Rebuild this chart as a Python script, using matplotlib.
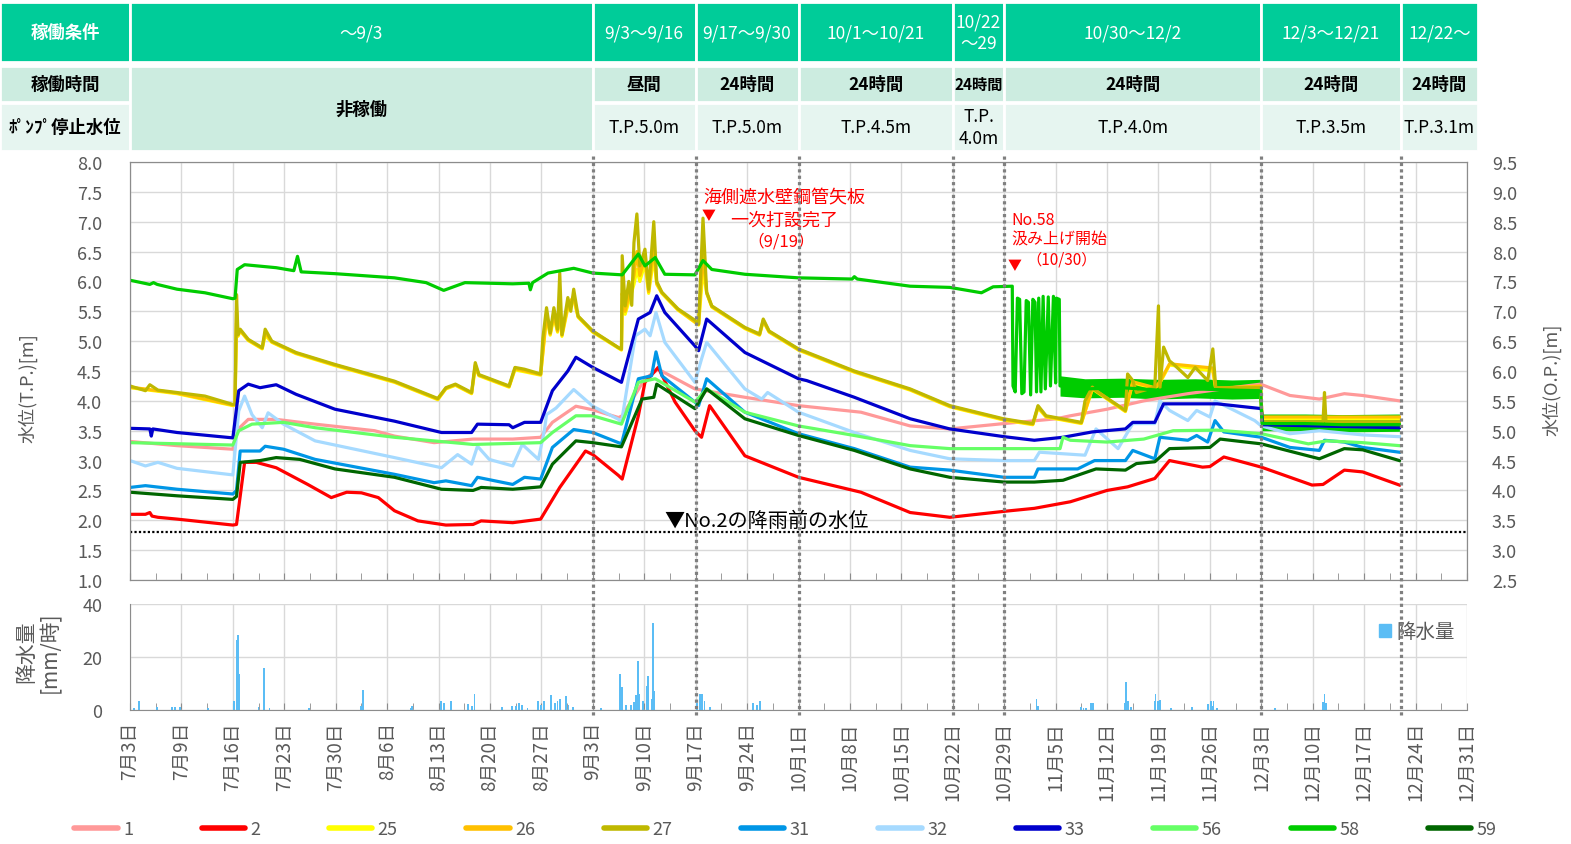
import matplotlib
matplotlib.use("Agg")
import matplotlib.pyplot as plt
from matplotlib.transforms import blended_transform_factory
from matplotlib.patches import Rectangle, Patch
from matplotlib.lines import Line2D
from matplotlib.ticker import MultipleLocator

# x = days since 7/2 (tick labels as printed on the original chart)
tick_labels = ['7月3日', '7月9日', '7月16日', '7月23日', '7月30日', '8月6日', '8月13日',
               '8月20日', '8月27日', '9月3日', '9月10日', '9月17日', '9月24日', '10月1日',
               '10月8日', '10月15日', '10月22日', '10月29日', '11月5日', '11月12日',
               '11月19日', '11月26日', '12月3日', '12月10日', '12月17日', '12月24日', '12月31日']

# pump operating periods (header table)
period_edges = [0, 63, 77, 91, 112, 119, 154, 173, 183.5]
cond_labels = ['～9/3', '9/3～9/16', '9/17～9/30', '10/1～10/21', '10/22\n～29',
               '10/30～12/2', '12/3～12/21', '12/22～']
hour_labels = ['非稼働', '昼間', '24時間', '24時間', '24時間', '24時間', '24時間', '24時間']
stop_labels = ['', 'T.P.5.0m', 'T.P.5.0m', 'T.P.4.5m', 'T.P.\n4.0m', 'T.P.4.0m',
               'T.P.3.5m', 'T.P.3.1m']

# water level (T.P. m), (day, value)
w1 = [(0, 3.32), (6.4, 3.25), (14.0, 3.19), (14.5, 3.5), (16.1, 3.69), (19.9, 3.69),
      (25.2, 3.61), (33.3, 3.5), (36, 3.41), (41.4, 3.3), (46.7, 3.36), (52.1, 3.36),
      (55.9, 3.39), (57.5, 3.64), (60.7, 3.91), (63, 3.85), (66.5, 3.72), (67, 3.75),
      (70.1, 4.37), (71.9, 4.53), (76.9, 4.2), (83.7, 4.06), (91, 3.92), (99.5, 3.81),
      (106.2, 3.58), (111.6, 3.53), (119, 3.62), (126.1, 3.7), (128, 3.75), (133, 3.86),
      (138, 4.0), (144, 4.12), (150, 4.22), (153.9, 4.28), (157.9, 4.09), (161.9, 4.03),
      (165.3, 4.12), (167.8, 4.09), (172.8, 4.0)]
w2 = [(0, 2.1), (2.1, 2.1), (2.7, 2.13), (3.0, 2.07), (3.8, 2.05), (6.4, 2.02), (14.0, 1.92),
      (14.5, 1.93), (15.6, 2.97), (17.2, 2.97), (19.9, 2.88), (24.2, 2.6), (27.4, 2.38),
      (29.5, 2.47), (31.5, 2.46), (33.8, 2.38), (36, 2.16), (39.2, 1.99), (43, 1.92),
      (46.7, 1.93), (47.8, 1.99), (52.1, 1.96), (55.9, 2.02), (58.5, 2.55), (62, 3.16),
      (63, 3.1), (66.5, 2.75), (67, 2.69), (69.2, 3.75), (70.1, 4.31), (71.9, 4.56),
      (74.2, 3.98), (76.9, 3.5), (77.8, 3.39), (78.9, 3.92), (83.7, 3.08), (91, 2.72),
      (99.5, 2.47), (106.2, 2.13), (111.6, 2.05), (119, 2.15), (123.1, 2.2), (128, 2.31),
      (133, 2.5), (135.8, 2.56), (139.5, 2.7), (141.5, 3.0), (146, 2.89), (147, 2.9),
      (148.9, 3.06), (154, 2.89), (160.9, 2.59), (162.4, 2.6), (165.3, 2.84), (167.8, 2.81),
      (172.8, 2.59)]
w25 = [(0, 4.22), (6.4, 4.12), (14.0, 3.92), (14.3, 3.93), (14.5, 5.3), (14.7, 5.08),
       (15.0, 5.17), (16.1, 5.01), (18.0, 4.87), (18.4, 5.1), (19.3, 4.98), (22.6, 4.79),
       (27.9, 4.59), (36, 4.31), (41.9, 4.02), (43, 4.2), (44.3, 4.26), (46.5, 4.12),
       (47, 4.55), (47.5, 4.42), (51.6, 4.23), (52.4, 4.52), (55.9, 4.43), (56.7, 5.4),
       (57.2, 5.1), (57.7, 5.4), (58.2, 5.15), (58.5, 5.5), (58.8, 5.08), (59.6, 5.55),
       (60.4, 5.7), (61, 5.4), (63, 5.15), (66.9, 4.85), (67.0, 5.6), (67.4, 5.45),
       (68.6, 5.95), (69.0, 6.2), (69.4, 6.0), (70.1, 6.3), (70.6, 5.8), (71.3, 6.4),
       (71.7, 5.95), (72.4, 5.8), (74.6, 5.52), (77.4, 5.27), (78.0, 6.2), (78.5, 5.8),
       (79.2, 5.57), (83.7, 5.21), (85.7, 5.1), (86.2, 5.33), (87, 5.15), (91, 4.85),
       (98.6, 4.48), (106.2, 4.18), (111.6, 3.9), (118.9, 3.68), (122.9, 3.6), (123.6, 3.88),
       (124.7, 3.73), (129.5, 3.62), (131, 4.2), (135.5, 3.82), (136.5, 4.3), (139.5, 4.21),
       (140.2, 4.3), (141.5, 4.6), (147.4, 4.5), (147.8, 4.2), (153.9, 4.22), (154.1, 3.7),
       (172.8, 3.7)]
w26 = [(0, 4.23), (6.4, 4.13), (14.0, 3.93), (14.3, 3.94), (14.5, 5.5), (14.7, 5.1),
       (15.0, 5.18), (16.1, 5.02), (18.0, 4.88), (18.4, 5.15), (19.3, 4.99), (22.6, 4.8),
       (27.9, 4.6), (36, 4.32), (41.9, 4.03), (43, 4.21), (44.3, 4.27), (46.5, 4.13),
       (47, 4.6), (47.5, 4.43), (51.6, 4.24), (52.4, 4.54), (55.9, 4.44), (56.7, 5.45),
       (57.2, 5.12), (57.7, 5.45), (58.2, 5.17), (58.5, 5.6), (58.8, 5.1), (59.6, 5.6),
       (60.4, 5.75), (61, 5.41), (63, 5.16), (66.9, 4.86), (67.0, 5.8), (67.4, 5.5),
       (68.6, 6.1), (69.0, 6.5), (69.4, 6.1), (70.1, 6.4), (70.6, 5.83), (71.3, 6.6),
       (71.7, 5.97), (72.4, 5.81), (74.6, 5.53), (77.4, 5.28), (78.0, 6.5), (78.5, 5.81),
       (79.2, 5.58), (83.7, 5.22), (85.7, 5.11), (86.2, 5.35), (87, 5.16), (91, 4.86),
       (98.6, 4.49), (106.2, 4.19), (111.6, 3.91), (118.9, 3.69), (122.9, 3.61), (123.6, 3.9),
       (124.7, 3.74), (129.5, 3.63), (131, 4.21), (135.5, 3.83), (136.5, 4.32), (139.5, 4.22),
       (140.2, 4.32), (141.5, 4.62), (147.4, 4.55), (147.8, 4.21), (153.9, 4.25),
       (154.1, 3.73), (172.8, 3.73)]
w27 = [(0, 4.25), (2.1, 4.17), (2.7, 4.27), (3.8, 4.18), (6.4, 4.14), (10.2, 4.08),
       (14.0, 3.94), (14.3, 3.95), (14.5, 5.78), (14.7, 5.11), (15.0, 5.2), (16.1, 5.03),
       (18.0, 4.89), (18.4, 5.2), (19.3, 5.0), (22.6, 4.81), (27.9, 4.61), (36, 4.33),
       (41.9, 4.04), (43, 4.22), (44.3, 4.28), (46.5, 4.14), (47, 4.64), (47.5, 4.44),
       (51.6, 4.25), (52.4, 4.56), (53.7, 4.53), (55.9, 4.45), (56.2, 5.05), (56.7, 5.56),
       (57.2, 5.14), (57.7, 5.56), (58.2, 5.2), (58.5, 6.14), (58.8, 5.11), (59.6, 5.73),
       (60.0, 5.5), (60.4, 5.87), (61, 5.42), (63, 5.17), (66.5, 4.89), (66.9, 4.87),
       (67.0, 6.43), (67.4, 5.59), (67.9, 6.0), (68.3, 5.6), (68.6, 6.65), (69.0, 7.13),
       (69.4, 6.26), (70.1, 6.54), (70.6, 5.87), (71.0, 6.5), (71.3, 7.0), (71.7, 6.0),
       (72.4, 5.82), (74.6, 5.54), (76.9, 5.35), (77.4, 5.29), (78.0, 7.06), (78.5, 5.82),
       (79.2, 5.59), (83.7, 5.23), (85.7, 5.12), (86.2, 5.37), (87, 5.17), (91, 4.87),
       (98.6, 4.5), (106.2, 4.2), (111.6, 3.92), (118.9, 3.7), (122.9, 3.62), (123.6, 3.92),
       (124.7, 3.75), (129.5, 3.64), (130, 4.0), (131, 4.23), (131.5, 4.17), (135.5, 3.84),
       (135.8, 4.45), (136.5, 4.34), (137, 4.14), (139.5, 4.23), (140, 5.59), (140.2, 4.22),
       (140.7, 4.9), (141.5, 4.67), (142, 4.62), (144, 4.39), (145, 4.56), (146.7, 4.34),
       (147.4, 4.87), (147.8, 4.22), (153.9, 4.22), (154.1, 3.65), (162.4, 3.65),
       (162.6, 4.14), (162.8, 3.65), (172.8, 3.65)]
w31 = [(0, 2.55), (2.1, 2.58), (6.4, 2.52), (14.0, 2.44), (14.5, 2.5), (15.0, 3.16),
       (17.7, 3.16), (18.4, 3.24), (20.9, 3.19), (25.2, 3.02), (36, 2.77), (41.4, 2.63),
       (43, 2.66), (46.5, 2.58), (47.3, 2.72), (52.1, 2.6), (53.7, 2.72), (55.9, 2.69),
       (57.5, 3.22), (60.4, 3.52), (63, 3.47), (66.9, 3.28), (69.2, 4.37), (71, 4.42),
       (71.6, 4.82), (72.4, 4.42), (76.9, 3.98), (77.4, 3.92), (78.5, 4.37), (83.7, 3.81),
       (91, 3.45), (98.6, 3.2), (106.2, 2.89), (111.6, 2.84), (119, 2.72), (123.1, 2.72),
       (123.6, 2.86), (129, 2.86), (131.3, 3.0), (135.5, 3.0), (136.5, 3.17), (139.5, 3.03),
       (140.2, 3.39), (144, 3.34), (145.2, 3.42), (146.7, 3.31), (147.7, 3.67), (148.9, 3.48),
       (154, 3.39), (157.9, 3.22), (161.9, 3.17), (162.6, 3.34), (165.3, 3.31), (167.8, 3.22),
       (172.8, 3.14)]
w32 = [(0, 3.0), (2.1, 2.91), (3.8, 2.97), (6.4, 2.87), (14.0, 2.76), (14.8, 3.83),
       (15.6, 4.08), (16.6, 3.77), (18.0, 3.55), (18.8, 3.8), (20.9, 3.61), (25.2, 3.33),
       (36, 3.05), (42.4, 2.88), (44.6, 3.1), (46.5, 2.94), (47.3, 3.24), (48.9, 3.02),
       (52.1, 2.91), (53.4, 3.27), (55.6, 3.02), (56.4, 3.5), (56.7, 3.77), (58, 3.88),
       (60.4, 4.19), (63, 3.91), (66.5, 3.69), (66.9, 3.64), (68.8, 5.09), (70.1, 5.2),
       (70.8, 5.09), (71.6, 5.48), (72.8, 4.98), (76.9, 4.31), (77.8, 4.7), (78.5, 4.98),
       (83.7, 4.2), (86, 4.03), (86.8, 4.14), (91, 3.81), (98.6, 3.47), (106.2, 3.17),
       (111.6, 3.03), (119, 3.0), (123.1, 3.0), (123.8, 3.14), (130, 3.09), (131.5, 3.53),
       (134.5, 3.2), (136.5, 3.62), (139.5, 3.62), (140.2, 4.0), (141.5, 3.84), (144, 3.67),
       (145.2, 3.84), (147, 3.73), (147.7, 4.0), (153.1, 3.67), (154, 3.58), (157.9, 3.45),
       (161.9, 3.5), (167.8, 3.43), (172.8, 3.4)]
w33 = [(0, 3.54), (2.7, 3.53), (2.9, 3.41), (3.1, 3.53), (6.4, 3.47), (14.0, 3.38),
       (14.8, 4.17), (16.1, 4.28), (17.7, 4.22), (19.9, 4.27), (22.6, 4.11), (27.9, 3.86),
       (36, 3.66), (42.4, 3.47), (46.5, 3.47), (47.3, 3.61), (51.6, 3.6), (52.1, 3.55),
       (53.7, 3.64), (55.9, 3.64), (57.5, 4.17), (59.6, 4.5), (60.7, 4.73), (63, 4.56),
       (66.9, 4.31), (69.2, 5.37), (70.8, 5.48), (71.7, 5.76), (72.8, 5.48), (76.9, 4.92),
       (77.4, 4.84), (78.5, 5.37), (83.7, 4.81), (91, 4.37), (92.1, 4.34), (98.6, 4.06),
       (106.2, 3.7), (111.6, 3.53), (119, 3.4), (123.1, 3.34), (127, 3.39), (131, 3.48),
       (135.5, 3.53), (136.5, 3.64), (139.5, 3.64), (140.7, 3.95), (148, 3.95), (154, 3.87),
       (154.2, 3.6), (172.8, 3.55)]
w56 = [(0, 3.3), (14.0, 3.26), (14.8, 3.5), (16.6, 3.61), (20.9, 3.64), (25.2, 3.55),
       (36, 3.39), (46.7, 3.27), (55.9, 3.3), (57.5, 3.47), (60.7, 3.75), (63, 3.75),
       (66.9, 3.61), (69.2, 4.31), (71.5, 4.37), (76.9, 3.98), (78.5, 4.2), (83.7, 3.81),
       (91, 3.58), (98.6, 3.42), (106.2, 3.25), (111.6, 3.2), (119, 3.2), (126.6, 3.2),
       (127, 3.39), (128, 3.34), (133, 3.31), (138, 3.36), (142, 3.5), (148, 3.51),
       (154, 3.45), (160.4, 3.28), (162.9, 3.33), (167.8, 3.3), (172.8, 3.25)]
w58 = [(0, 6.02), (2.7, 5.95), (3.2, 5.98), (3.7, 5.95), (6.4, 5.87), (10.2, 5.81),
       (14.0, 5.71), (14.3, 5.72), (14.6, 6.2), (15.6, 6.28), (19.9, 6.23), (22.3, 6.18),
       (22.8, 6.42), (23.3, 6.16), (27.9, 6.13), (36, 6.06), (40.3, 5.98), (42.7, 5.85),
       (45.6, 5.98), (52.1, 5.96), (54.3, 5.97), (54.5, 5.86), (54.8, 5.98), (56.9, 6.14),
       (60.4, 6.22), (63, 6.14), (67, 6.11), (69.2, 6.46), (70.1, 6.26), (71.5, 6.4),
       (72.8, 6.12), (76.9, 6.11), (78.0, 6.35), (79.2, 6.2), (83.7, 6.12), (91, 6.06),
       (98.3, 6.04), (98.6, 6.08), (99, 6.04), (106.2, 5.92), (111.6, 5.9), (115.9, 5.81),
       (117.5, 5.91), (120.1, 5.92), (120.2, 4.25), (120.5, 4.15), (120.8, 5.72),
       (121.1, 5.7), (121.4, 4.12), (121.7, 4.15), (122.0, 5.68), (122.3, 5.65),
       (122.6, 4.1), (122.9, 5.7), (123.2, 5.65), (123.4, 4.15), (123.7, 5.72),
       (124.0, 4.15), (124.3, 5.75), (124.6, 4.2), (125.0, 5.74), (125.3, 4.25),
       (125.7, 5.75), (126.0, 4.3), (126.1, 5.72), (126.5, 5.7), (126.6, 4.25),
       (130, 4.2), (135, 4.22), (140, 4.18), (145, 4.2), (150, 4.18), (153.9, 4.17),
       (154.1, 3.62), (160, 3.62), (165, 3.6), (172.8, 3.6)]
w59 = [(0, 2.47), (6.4, 2.41), (14.0, 2.35), (14.5, 2.4), (15.0, 2.97), (17.7, 3.0),
       (19.9, 3.05), (23.1, 3.02), (27.9, 2.86), (36, 2.72), (42.4, 2.52), (46.7, 2.5),
       (47.8, 2.55), (52.1, 2.52), (55.9, 2.56), (57.5, 2.94), (60.7, 3.33), (63, 3.3),
       (66.9, 3.23), (69.7, 4.03), (71.3, 4.06), (71.7, 4.28), (76.9, 3.87), (78.5, 4.2),
       (83.7, 3.7), (91, 3.42), (98.6, 3.17), (106.2, 2.86), (111.6, 2.72), (119, 2.64),
       (123.1, 2.64), (127, 2.67), (131.5, 2.86), (135.5, 2.84), (137, 2.95), (139.5, 2.98),
       (141.5, 3.2), (147, 3.22), (148.4, 3.36), (154, 3.28), (161.9, 3.03), (165.3, 3.2),
       (167.8, 3.18), (172.8, 3.0)]

# No.58 noisy band after pumping started (day, low, high)
band58 = [(126.6, 4.08, 4.42), (130, 4.05, 4.37), (135, 4.06, 4.38), (140, 4.03, 4.36),
          (145, 4.05, 4.37), (150, 4.03, 4.35), (153.9, 4.04, 4.36),
          (154.1, 3.5, 3.78), (160, 3.5, 3.78), (165, 3.48, 3.77), (172.8, 3.49, 3.78)]

series_names = ['1', '2', '25', '26', '27', '31', '32', '33', '56', '58', '59']
series_data = [w1, w2, w25, w26, w27, w31, w32, w33, w56, w58, w59]
series_colors = ['#FF9999', '#FF0000', '#FFFF00', '#FFC000', '#BFB800', '#0096E6',
                 '#A6DAFF', '#0000CC', '#66FF66', '#00CC00', '#006600']

# rainfall (day, mm/h)
rain = [(0.55, 0.9), (1.2, 3.4), (3.7, 1.3), (5.7, 1.3), (6.1, 1.3), (6.8, 1.3), (10.6, 0.8),
        (14.2, 3.4), (14.5, 26.3), (14.7, 28.2), (14.8, 13.6), (17.5, 1.3), (18.2, 15.7),
        (19.0, 0.9), (24.4, 0.8), (31.5, 1.5), (31.7, 7.5), (38.2, 0.9), (38.4, 1.5),
        (42.3, 3.4), (42.7, 2.8), (43.7, 3.4), (46.0, 2.4), (46.5, 1.5), (46.9, 6.0),
        (50.6, 1.0), (52.0, 1.5), (52.5, 1.5), (52.9, 2.8), (53.4, 2.0), (54.1, 0.9),
        (55.5, 3.4), (55.9, 2.0), (56.4, 3.4), (57.3, 5.7), (57.8, 2.8), (58.2, 3.4),
        (58.5, 4.1), (59.4, 5.3), (59.7, 2.0), (60.3, 1.0), (64.1, 0.9), (66.7, 13.6),
        (67.0, 8.5), (67.5, 2.0), (68.2, 2.0), (68.6, 3.0), (68.9, 5.6), (69.1, 18.4),
        (69.3, 6.0), (69.8, 3.4), (70.4, 9.1), (70.5, 12.7), (71.0, 4.1), (71.2, 32.9),
        (71.3, 7.2), (77.2, 2.8), (77.6, 6.0), (77.9, 6.0), (78.2, 3.4), (78.9, 1.3),
        (84.8, 2.5), (85.3, 1.8), (85.8, 3.4), (123.4, 4.3), (123.6, 1.5), (129.5, 1.3),
        (129.8, 0.9), (130.1, 0.7), (130.8, 2.8), (131.1, 2.8), (135.4, 2.8), (135.6, 10.7),
        (135.9, 3.4), (136.3, 1.2), (139.5, 3.4), (139.6, 6.0), (139.9, 3.4), (140.2, 3.7),
        (141.7, 0.9), (144.6, 1.3), (146.8, 2.4), (147.1, 3.4), (147.3, 1.5), (147.5, 3.4),
        (148.0, 0.9), (155.9, 0.9), (162.4, 3.0), (162.6, 6.0), (162.8, 2.8)]

no2_base = 1.8

plt.rcParams['font.family'] = ['Noto Sans CJK JP', 'DejaVu Sans']
GRAY = '#595959'
W, H = 1571, 845

fig = plt.figure(figsize=(W / 100, H / 100), dpi=100)
ax = fig.add_axes([130 / W, 1 - 581 / H, 1337 / W, 418 / H])
axr = fig.add_axes([130 / W, 1 - 711 / H, 1337 / W, 106 / H], sharex=ax)

ax.set_xlim(0, 182)
ax.set_ylim(1.0, 8.0)
ax.yaxis.set_major_locator(MultipleLocator(0.5))
ax.yaxis.set_major_formatter(lambda v, p: f'{v:.1f}')
ax.xaxis.set_major_locator(MultipleLocator(7))
ax.xaxis.set_minor_locator(MultipleLocator(3.5))
ax.grid(True, color='#D9D9D9', lw=1)
ax.set_axisbelow(True)
ax.tick_params(axis='x', which='both', direction='in', length=5, color='#8C8C8C',
               labelbottom=False)
ax.tick_params(axis='y', length=0, pad=20, labelsize=13, labelcolor=GRAY)
for s in ax.spines.values():
    s.set_color('#8C8C8C')

ax2 = ax.twinx()
ax2.set_ylim(2.5, 9.5)
ax2.yaxis.set_major_locator(MultipleLocator(0.5))
ax2.yaxis.set_major_formatter(lambda v, p: f'{v:.1f}')
ax2.tick_params(axis='y', length=0, pad=18, labelsize=13, labelcolor=GRAY)
for s in ax2.spines.values():
    s.set_color('#8C8C8C')

handles = []
for name, data, col in zip(series_names, series_data, series_colors):
    xs = [p[0] for p in data]
    ys = [p[1] for p in data]
    ax.plot(xs, ys, color=col, lw=2.3, solid_joinstyle='round')
    if name == '58':
        ax.fill_between([b[0] for b in band58], [b[1] for b in band58],
                        [b[2] for b in band58], color=col, lw=0)
    handles.append(Line2D([], [], color=col, lw=4, solid_capstyle='round'))

ax.axhline(no2_base, color='black', lw=1.6, ls=(0, (1, 1)))
ax.text(72.8, 1.99, '▼No.2の降雨前の水位', fontsize=14.5, color='black', va='center',
        ha='left')

# annotations
ax.text(89.1, 7.40, '海側遮水壁鋼管矢板', color='red', fontsize=13, ha='center', va='center')
ax.text(89.1, 7.03, '一次打設完了', color='red', fontsize=13, ha='center', va='center')
ax.text(88.7, 6.68, '（9/19）', color='red', fontsize=12, ha='center', va='center')
ax.text(78.8, 7.11, '▼', color='red', fontsize=10, ha='center', va='center')
ax.text(120.0, 7.03, 'No.58', color='red', fontsize=11.5, ha='left', va='center')
ax.text(120.0, 6.71, '汲み上げ開始', color='red', fontsize=11.5, ha='left', va='center')
ax.text(126.8, 6.38, '（10/30）', color='red', fontsize=11, ha='center', va='center')
ax.text(120.4, 6.27, '▼', color='red', fontsize=10, ha='center', va='center')

# rainfall
axr.bar([r[0] for r in rain], [r[1] for r in rain], width=0.25, color='#5BBDF5', lw=0)
axr.set_ylim(0, 40)
axr.set_yticks([0, 20, 40])
axr.grid(True, color='#D9D9D9', lw=1)
axr.set_axisbelow(True)
axr.set_xticks(range(0, 183, 7))
axr.set_xticklabels(tick_labels, rotation=90, fontsize=13.5, color=GRAY)
axr.tick_params(axis='x', which='both', direction='in', length=5, color='#8C8C8C', pad=8)
axr.tick_params(axis='y', length=0, pad=20, labelsize=13, labelcolor=GRAY)
axr.spines['top'].set_visible(False)
axr.spines['right'].set_visible(False)
axr.spines['left'].set_color('#8C8C8C')
axr.spines['bottom'].set_color('#8C8C8C')
axr.legend([Patch(color='#5BBDF5')], ['降水量'], loc='center right',
           bbox_to_anchor=(0.991, 0.736), frameon=False, fontsize=14,
           handlelength=0.6, handleheight=0.6, handletextpad=0.3, borderpad=0,
           borderaxespad=0, labelcolor=GRAY)

# period boundaries (dotted) spanning both panels, drawn above both axes
blend = blended_transform_factory(ax.transData, fig.transFigure)
for p in period_edges[1:-1]:
    fig.add_artist(Line2D([p, p], [1 - 157 / H, 1 - 716 / H], transform=blend,
                          color='#808080', lw=2.3, ls=(0, (1, 1)), zorder=5))

# header table
row_y = [(3, 63), (67, 103), (104, 152)]
TOP, MID, LOW = '#00CC99', '#CCECE0', '#E6F5F0'
x_left = -ax.get_position().x0 * W / (1337 / 182)


def cell(x0, x1, r0, r1, color, text, tcolor, weight, size=12.5):
    y0 = 1 - row_y[r1][1] / H
    y1 = 1 - row_y[r0][0] / H
    ax.add_patch(Rectangle((x0, y0), x1 - x0, y1 - y0, transform=blend, clip_on=False,
                           facecolor=color, edgecolor='white', lw=2, zorder=6))
    ax.text((x0 + x1) / 2, (y0 + y1) / 2, text, transform=blend, clip_on=False,
            ha='center', va='center', color=tcolor, fontweight=weight, fontsize=size,
            linespacing=1.25, zorder=7)


cell(x_left, 0, 0, 0, TOP, '稼働条件', 'white', 'bold')
cell(x_left, 0, 1, 1, MID, '稼働時間', 'black', 'bold')
cell(x_left, 0, 2, 2, LOW, 'ﾎﾟﾝﾌﾟ停止水位', 'black', 'bold')
for i in range(len(cond_labels)):
    a, b = period_edges[i], period_edges[i + 1]
    cell(a, b, 0, 0, TOP, cond_labels[i], 'white', 'normal')
    if i == 0:
        cell(a, b, 1, 2, MID, hour_labels[i], 'black', 'bold')
    else:
        cell(a, b, 1, 1, MID, hour_labels[i], 'black', 'bold',
             size=11 if b - a < 10 else 12.5)
        cell(a, b, 2, 2, LOW, stop_labels[i], 'black', 'normal')

# axis titles
fig.text(28 / W, 1 - 388 / H, '水位(T.P.)[m]', rotation=90, ha='center', va='center',
         fontsize=13, color=GRAY)
fig.text(1552 / W, 1 - 380 / H, '水位(O.P.)[m]', rotation=90, ha='center', va='center',
         fontsize=13, color=GRAY)
fig.text(38 / W, 1 - 652 / H, '降水量\n[mm/時]', rotation=90, ha='center', va='center',
         fontsize=15, color=GRAY, linespacing=1.1)

fig.legend(handles, series_names, loc='center', bbox_to_anchor=(0.5, 1 - 830 / H),
           ncol=11, frameon=False, fontsize=13, handlelength=2.4, handletextpad=0.3,
           columnspacing=3.8, labelcolor=GRAY)

fig.savefig('out.png', dpi=100)
